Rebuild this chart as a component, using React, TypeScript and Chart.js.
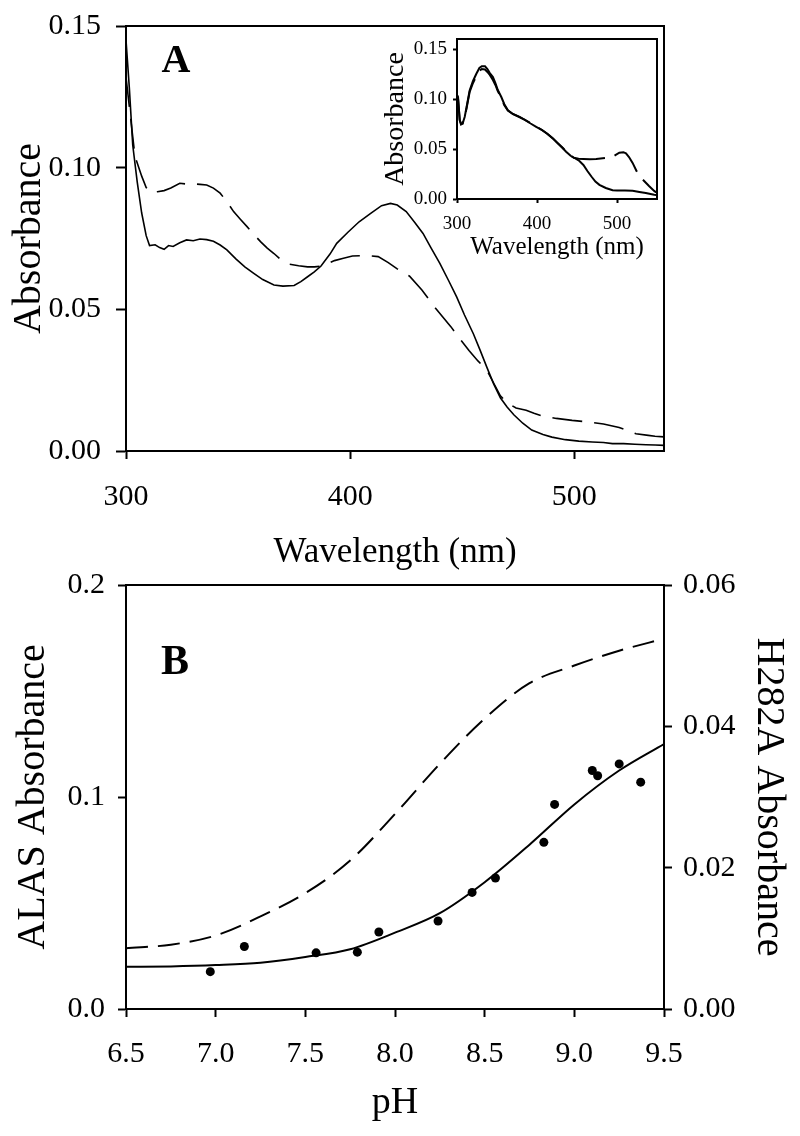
import React, { useEffect, useRef } from 'react';
import { Chart, registerables } from 'chart.js';

Chart.register(...registerables);

// ---------- Panel A (main) : absorbance spectra ----------
const aSolidWl = [300, 301.5, 303, 305, 307, 309, 310.5, 313, 315, 317, 319, 321, 324, 327, 330, 333, 336, 339, 342, 345, 349, 353, 357, 361, 366, 370, 375, 378, 381, 384, 387, 391, 394, 399, 404, 409, 414, 418, 421, 425, 429, 432.5, 436, 440, 444, 447.5, 451, 455, 458, 461, 464, 467, 470, 473, 477, 481, 486, 490, 496, 502, 508, 513, 517, 522, 527, 532, 536, 540];
const aSolidAbs = [0.145, 0.128, 0.108, 0.095, 0.084, 0.076, 0.0725, 0.0728, 0.0718, 0.0712, 0.0725, 0.0722, 0.0735, 0.0745, 0.0742, 0.0748, 0.0746, 0.074, 0.0727, 0.071, 0.0678, 0.065, 0.0627, 0.0605, 0.0586, 0.0582, 0.0584, 0.0598, 0.0615, 0.0632, 0.0653, 0.0695, 0.0733, 0.0772, 0.0809, 0.0838, 0.0866, 0.0874, 0.0868, 0.0845, 0.0805, 0.0768, 0.0718, 0.0662, 0.06, 0.0544, 0.048, 0.0413, 0.0355, 0.0295, 0.0237, 0.0188, 0.0155, 0.0128, 0.0098, 0.0074, 0.0058, 0.0049, 0.004, 0.0035, 0.0032, 0.003, 0.0026, 0.0026, 0.0024, 0.0022, 0.0021, 0.002];
const aDashWl = [300, 302, 304, 307, 309, 311, 314, 317, 320, 324, 327, 330, 333, 336, 339, 342, 345, 348, 351, 354, 357, 360, 363, 366, 369, 372.5, 377, 381, 384, 387, 390, 393, 397, 401, 407, 412.5, 417, 421, 426.5, 432, 438, 445, 449, 453, 457, 461, 464, 467, 470, 474, 478.5, 482, 486, 492, 499, 507, 513, 520, 524, 527.5, 533, 536, 540];
const aDashAbs = [0.132, 0.118, 0.104, 0.097, 0.093, 0.0912, 0.0915, 0.0919, 0.0928, 0.0945, 0.0942, 0.0943, 0.0941, 0.0939, 0.0928, 0.091, 0.088, 0.0845, 0.0818, 0.0792, 0.0765, 0.0739, 0.0716, 0.0697, 0.0676, 0.066, 0.0654, 0.065, 0.065, 0.0652, 0.0662, 0.0672, 0.068, 0.0688, 0.069, 0.0686, 0.0665, 0.0643, 0.0617, 0.0568, 0.0505, 0.0438, 0.0395, 0.0355, 0.0318, 0.0285, 0.024, 0.0195, 0.017, 0.0152, 0.0144, 0.0133, 0.0123, 0.0115, 0.0108, 0.0102, 0.0095, 0.0083, 0.0072, 0.0061, 0.0055, 0.0052, 0.005];
const aXTicks = [300, 400, 500];
const aYTicks = [0, 0.05, 0.1, 0.15];

// ---------- Panel A (inset) ----------
const inSolidWl = [300, 301.3, 303.4, 305, 307, 309.6, 312, 315.8, 320, 324.2, 328, 331, 335, 338, 341, 344.9, 348, 351, 355.4, 359, 363.6, 370, 378, 385, 392, 399, 406, 413, 419.7, 426, 432, 436.4, 442, 448, 453, 458, 463, 468, 473, 478, 486, 494.5, 500, 510, 519.5, 528, 536, 542, 546.5, 549];
const inSolidAbs = [0.104, 0.102, 0.079, 0.0755, 0.0755, 0.082, 0.092, 0.1086, 0.118, 0.1252, 0.131, 0.1328, 0.1328, 0.13, 0.126, 0.1219, 0.116, 0.109, 0.102, 0.095, 0.0888, 0.085, 0.0821, 0.079, 0.0755, 0.0722, 0.069, 0.065, 0.0606, 0.0556, 0.051, 0.0473, 0.0432, 0.0405, 0.038, 0.034, 0.028, 0.0225, 0.0175, 0.0142, 0.011, 0.0088, 0.0085, 0.0084, 0.0082, 0.007, 0.006, 0.005, 0.0043, 0.004];
const inDashWl = [300, 301.3, 303.4, 305, 307, 309.6, 312, 315.8, 320, 324.2, 328, 331, 335, 338, 341, 344.9, 348, 351, 355.4, 359, 363.6, 370, 378, 385, 392, 399, 406, 413, 419.7, 426, 432, 436.4, 442, 446, 452, 458, 466, 474, 485, 494.5, 502.9, 508, 511.2, 515, 519.5, 525, 532, 540, 546.5, 549];
const inDashAbs = [0.104, 0.1, 0.079, 0.0745, 0.0755, 0.082, 0.091, 0.107, 0.116, 0.123, 0.128, 0.13, 0.1295, 0.127, 0.124, 0.119, 0.114, 0.108, 0.101, 0.094, 0.0885, 0.0848, 0.082, 0.0792, 0.0758, 0.0725, 0.0692, 0.0652, 0.0608, 0.0558, 0.0512, 0.0475, 0.0435, 0.0412, 0.0402, 0.04, 0.0398, 0.04, 0.041, 0.0423, 0.0463, 0.0468, 0.0456, 0.042, 0.0361, 0.027, 0.0196, 0.013, 0.0081, 0.0065];
const inXTicks = [300, 400, 500];
const inYTicks = [0, 0.05, 0.1, 0.15];

// ---------- Panel B : pH titration ----------
const bCurvePh = [6.5, 6.75, 7.0, 7.25, 7.5, 7.75, 8.0, 8.25, 8.5, 8.75, 9.0, 9.25, 9.5];
const bSolidAlas = [0.0199, 0.0201, 0.0207, 0.0218, 0.0245, 0.0282, 0.036, 0.0452, 0.0598, 0.0775, 0.0965, 0.1125, 0.125];
const bDashH282A = [0.0086, 0.0091, 0.0104, 0.0131, 0.0164, 0.021, 0.0276, 0.0347, 0.0411, 0.0461, 0.0486, 0.0507, 0.0524];
const bPointPh = [6.97, 7.16, 7.56, 7.79, 7.91, 8.24, 8.43, 8.56, 8.83, 8.89, 9.1, 9.13, 9.25, 9.37];
const bPointAlas = [0.0176, 0.0295, 0.0265, 0.0268, 0.0363, 0.0415, 0.055, 0.0618, 0.0786, 0.0965, 0.1125, 0.11, 0.1156, 0.107];
const bXTicks = [6.5, 7.0, 7.5, 8.0, 8.5, 9.0, 9.5];
const bYTicks = [0, 0.1, 0.2];
const bY1Ticks = [0, 0.02, 0.04, 0.06];

const FONT = '"Liberation Serif", "Times New Roman", serif';

const pts = (xs: number[], ys: number[]) => xs.map((x, i) => ({ x, y: ys[i] }));

const decorPlugin = {
  id: 'decor',
  afterDraw(chart: any) {
    const o = chart.options.plugins.decor || {};
    const { ctx, chartArea: a } = chart;
    ctx.save();
    ctx.strokeStyle = '#000';
    ctx.lineWidth = o.lineWidth || 2;
    ctx.lineCap = 'square';
    ctx.beginPath();
    if (o.top) { ctx.moveTo(a.left, a.top); ctx.lineTo(a.right, a.top); }
    if (o.right) { ctx.moveTo(a.right, a.top); ctx.lineTo(a.right, a.bottom); }
    ctx.stroke();
    if (o.label) {
      ctx.font = o.labelFont;
      ctx.fillStyle = '#000';
      ctx.textAlign = 'center';
      ctx.textBaseline = 'middle';
      ctx.fillText(o.label, a.left + o.labelDx, a.top + o.labelDy);
    }
    ctx.restore();
  },
};

function axis(p: any) {
  return {
    type: 'linear',
    position: p.position,
    min: p.min,
    max: p.max,
    afterBuildTicks: (s: any) => { s.ticks = p.ticks.map((v: number) => ({ value: v })); },
    afterFit: (s: any) => {
      if (p.position === 'bottom') s.height = p.size; else s.width = p.size;
      s.paddingTop = 0; s.paddingBottom = 0; s.paddingLeft = 0; s.paddingRight = 0;
    },
    grid: {
      display: true, drawOnChartArea: false, drawTicks: true,
      tickLength: p.tickLength, tickWidth: p.tickWidth || 2, tickColor: '#000', color: '#000',
    },
    border: { display: true, color: '#000', width: p.borderWidth || 2 },
    ticks: {
      color: '#000', font: { family: FONT, size: p.tickSize }, padding: p.tickPad,
      autoSkip: false, maxRotation: 0, minRotation: 0,
      callback: (v: any) => Number(v).toFixed(p.dec),
    },
    title: {
      display: true, text: p.title, color: '#000',
      font: { family: FONT, size: p.titleSize, lineHeight: 1.2 },
      padding: { top: p.titlePad, bottom: p.titlePad },
    },
  };
}

const baseOpts = {
  responsive: false,
  animation: false,
  events: [] as any[],
  plugins: { legend: { display: false }, tooltip: { enabled: false } },
};

function useChart(ref: any, cfg: () => any) {
  useEffect(() => {
    const c = new Chart(ref.current, cfg());
    return () => c.destroy();
  }, []);
}

export default function App() {
  const aRef = useRef<HTMLCanvasElement>(null);
  const inRef = useRef<HTMLCanvasElement>(null);
  const bRef = useRef<HTMLCanvasElement>(null);

  useChart(aRef, () => ({
    type: 'scatter',
    data: {
      datasets: [
        { data: pts(aSolidWl, aSolidAbs), showLine: true, pointRadius: 0, borderColor: '#000', borderWidth: 1.6, tension: 0 },
        { data: pts(aDashWl, aDashAbs), showLine: true, pointRadius: 0, borderColor: '#000', borderWidth: 1.6, borderDash: [30, 12], tension: 0 },
      ],
    },
    options: {
      ...baseOpts,
      layout: { padding: { top: 26, right: 136, left: 0, bottom: 0 } },
      plugins: { ...baseOpts.plugins, decor: { top: true, right: true, label: 'A', labelFont: `bold 40px ${FONT}`, labelDx: 50, labelDy: 36 } },
      scales: {
        x: axis({ position: 'bottom', min: 300, max: 540, ticks: aXTicks, size: 129, tickLength: 8, tickSize: 30, tickPad: 20, dec: 0, title: 'Wavelength (nm)', titleSize: 35, titlePad: 6 }),
        y: axis({ position: 'left', min: 0, max: 0.15, ticks: aYTicks, size: 126, tickLength: 10, tickSize: 30, tickPad: 15, dec: 2, title: 'Absorbance', titleSize: 40, titlePad: 5 }),
      },
    },
    plugins: [decorPlugin],
  }));

  useChart(inRef, () => ({
    type: 'scatter',
    data: {
      datasets: [
        { data: pts(inSolidWl, inSolidAbs), showLine: true, pointRadius: 0, borderColor: '#000', borderWidth: 2, tension: 0 },
        { data: pts(inDashWl, inDashAbs), showLine: true, pointRadius: 0, borderColor: '#000', borderWidth: 2, borderDash: [34, 10], tension: 0 },
      ],
    },
    options: {
      ...baseOpts,
      layout: { padding: { top: 19, right: 13, left: 0, bottom: 0 } },
      plugins: { ...baseOpts.plugins, decor: { top: true, right: true } },
      scales: {
        x: axis({ position: 'bottom', min: 300, max: 550, ticks: inXTicks, size: 81, tickLength: 4, tickSize: 19, tickPad: 10, dec: 0, title: 'Wavelength (nm)', titleSize: 25, titlePad: 18 }),
        y: axis({ position: 'left', min: 0, max: 0.16, ticks: inYTicks, size: 87, tickLength: 4, tickSize: 19, tickPad: 6, dec: 2, title: 'Absorbance', titleSize: 28, titlePad: 9 }),
      },
    },
    plugins: [decorPlugin],
  }));

  useChart(bRef, () => ({
    type: 'scatter',
    data: {
      datasets: [
        { data: pts(bCurvePh, bSolidAlas), yAxisID: 'y', showLine: true, pointRadius: 0, borderColor: '#000', borderWidth: 2, cubicInterpolationMode: 'monotone' },
        { data: pts(bCurvePh, bDashH282A), yAxisID: 'y1', showLine: true, pointRadius: 0, borderColor: '#000', borderWidth: 2, borderDash: [22, 10], cubicInterpolationMode: 'monotone' },
        { data: pts(bPointPh, bPointAlas), yAxisID: 'y', showLine: false, pointRadius: 4.5, backgroundColor: '#000', borderWidth: 0 },
      ],
    },
    options: {
      ...baseOpts,
      layout: { padding: { top: 25, right: 0, left: 0, bottom: 0 } },
      plugins: { ...baseOpts.plugins, decor: { top: true, right: false, label: 'B', labelFont: `bold 42px ${FONT}`, labelDx: 49, labelDy: 78 } },
      scales: {
        x: axis({ position: 'bottom', min: 6.5, max: 9.5, ticks: bXTicks, size: 127, tickLength: 8, tickSize: 30, tickPad: 19, dec: 1, title: 'pH', titleSize: 38, titlePad: 10 }),
        y: axis({ position: 'left', min: 0, max: 0.2, ticks: bYTicks, size: 126, tickLength: 8, tickSize: 30, tickPad: 13, dec: 1, title: 'ALAS Absorbance', titleSize: 40, titlePad: 9 }),
        y1: axis({ position: 'right', min: 0, max: 0.06, ticks: bY1Ticks, size: 136, tickLength: 8, tickSize: 30, tickPad: 11, dec: 2, title: 'H282A Absorbance', titleSize: 40, titlePad: 8 }),
      },
    },
    plugins: [decorPlugin],
  }));

  return (
    <div style={{ position: 'absolute', left: 0, top: 0, width: 800, height: 1136, background: '#fff', overflow: 'hidden' }}>
      <canvas ref={aRef} width={800} height={580} style={{ position: 'absolute', left: 0, top: 0, width: 800, height: 580 }} />
      <canvas ref={bRef} width={800} height={576} style={{ position: 'absolute', left: 0, top: 560, width: 800, height: 576 }} />
      <canvas ref={inRef} width={300} height={260} style={{ position: 'absolute', left: 370, top: 20, width: 300, height: 260 }} />
    </div>
  );
}
